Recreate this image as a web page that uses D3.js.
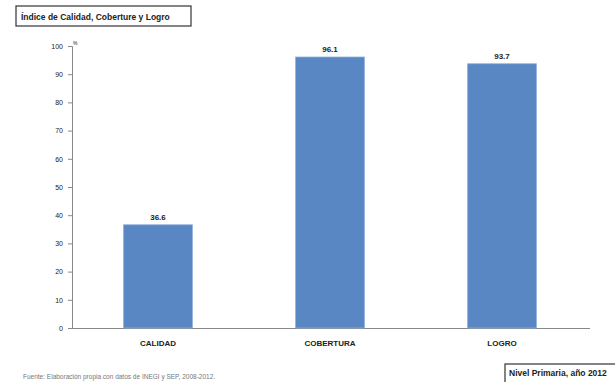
<!DOCTYPE html>
<html><head><meta charset="utf-8">
<script src="https://cdn.jsdelivr.net/npm/d3@7"></script>
<style>body{margin:0;background:#fff}svg{display:block}</style>
</head><body>
<script>
const categories = ["CALIDAD", "COBERTURA", "LOGRO"];
const values = [36.6, 96.1, 93.7];
const yTicks = [0,10,20,30,40,50,60,70,80,90,100];

const W = 615, H = 382;
const svg = d3.select("body").append("svg").attr("width", W).attr("height", H);
const font = "'Liberation Sans', Arial, sans-serif";

const x = d3.scaleBand().domain(categories).range([72, 588]).paddingInner(0.6).paddingOuter(0.3);
const y = d3.scaleLinear().domain([0, 100]).range([328, 46]);

// Title box
svg.append("rect").attr("x", 16).attr("y", 6).attr("width", 175).attr("height", 20)
  .attr("fill", "#fff").attr("stroke", "#333").attr("stroke-width", 1.2);
svg.append("text").attr("x", 21).attr("y", 19.5).attr("font-family", font).attr("font-weight", "bold")
  .attr("font-size", 8.5).attr("fill", "#222").text("Índice de Calidad, Coberture y Logro");

// Y axis
const yAxis = d3.axisLeft(y).tickValues(yTicks).tickSize(4).tickPadding(5);
const gy = svg.append("g").attr("transform", "translate(72,0)").call(yAxis);
gy.select(".domain").attr("stroke", "#888");
gy.selectAll(".tick line").attr("stroke", "#888");
gy.selectAll(".tick text").attr("font-family", font).attr("font-size", 7).attr("fill", "#222");

svg.append("text").attr("x", 73).attr("y", 45).attr("font-family", font).attr("font-size", 5).attr("fill", "#222").text("%");

// X axis baseline
svg.append("line").attr("x1", 72).attr("x2", 590).attr("y1", y(0)+0.5).attr("y2", y(0)+0.5).attr("stroke", "#888");

// Bars
svg.selectAll("rect.bar").data(values).enter().append("rect").attr("class", "bar")
  .attr("x", (d,i) => x(categories[i])).attr("width", x.bandwidth())
  .attr("y", d => y(d)).attr("height", d => y(0) - y(d))
  .attr("fill", "#5887c3").attr("stroke", "#8fb0dc").attr("stroke-width", 0.8);

// Value labels
svg.selectAll("text.val").data(values).enter().append("text").attr("class", "val")
  .attr("x", (d,i) => x(categories[i]) + x.bandwidth()/2).attr("y", d => y(d) - 5)
  .attr("text-anchor", "middle").attr("font-family", font).attr("font-weight", "bold")
  .attr("font-size", 8).attr("fill", "#222").text(d => d.toFixed(1));

// Category labels
svg.selectAll("text.cat").data(categories).enter().append("text").attr("class", "cat")
  .attr("x", d => x(d) + x.bandwidth()/2).attr("y", 346)
  .attr("text-anchor", "middle").attr("font-family", font).attr("font-weight", "bold")
  .attr("font-size", 8).attr("fill", "#222").text(d => d);

// Bottom-right box
svg.append("rect").attr("x", 505).attr("y", 364).attr("width", 115).attr("height", 20)
  .attr("fill", "#fff").attr("stroke", "#333").attr("stroke-width", 1.2);
svg.append("text").attr("x", 509).attr("y", 376).attr("font-family", font).attr("font-weight", "bold")
  .attr("font-size", 8.5).attr("fill", "#222").text("Nivel Primaria, año 2012");

// Source
svg.append("text").attr("x", 23).attr("y", 379).attr("font-family", font)
  .attr("font-size", 6.5).attr("fill", "#777").text("Fuente: Elaboración propia con datos de INEGI y SEP, 2008-2012.");
</script>
</body></html>
